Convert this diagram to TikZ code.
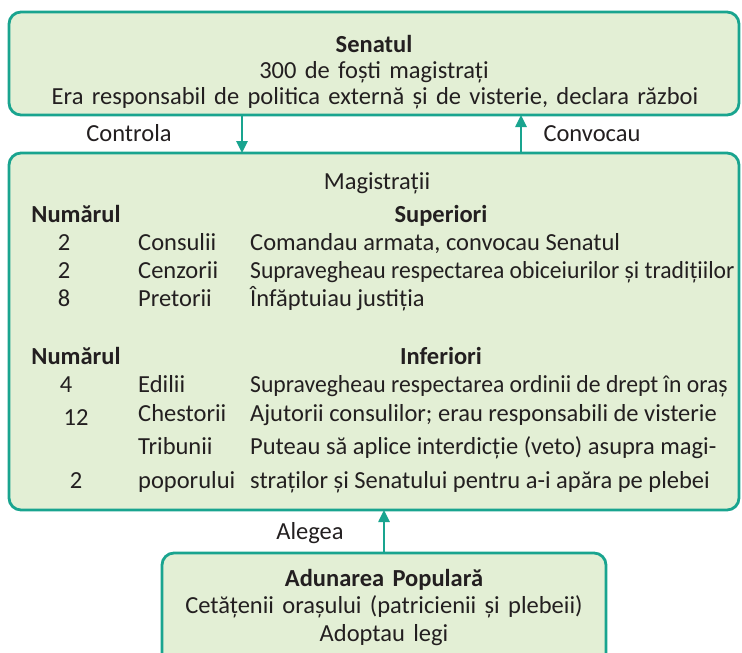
\documentclass[tikz,border=0pt]{standalone}
\usepackage{fontspec}
\usepackage{graphicx}
\setmainfont{Carlito}
\usetikzlibrary{arrows.meta}
\definecolor{bordc}{HTML}{19A48F}
\definecolor{fillc}{HTML}{E3EFD5}
\definecolor{txtc}{HTML}{231F20}
\newcommand\wsp{\spaceskip=0.34em\relax}
\newcommand\narrowtxt[1]{\scalebox{0.965}[1]{#1}}
\begin{document}
\begin{tikzpicture}[x=1pt,y=-1pt,
 box/.style={draw=bordc, fill=fillc, line width=2.8pt, rounded corners=12pt, inner sep=0pt, outer sep=0pt},
 t/.style={anchor=base, inner sep=0pt, text=txtc, font=\fontsize{24.5}{28}\selectfont},
 tl/.style={t, anchor=base west},
 b/.style={t, font=\fontsize{24.5}{28}\selectfont\bfseries},
 arr/.style={draw=bordc, line width=2.5pt, -{Triangle[length=12pt,width=11pt]}}]
\useasboundingbox (0,0) rectangle (742,653);
% boxes
\node[box, minimum width=730pt, minimum height=103pt] (sen) at (374,63.5) {};
\node[box, minimum width=730pt, minimum height=357pt] (mag) at (374,331.5) {};
\node[box, minimum width=444pt, minimum height=112pt] (pop) at (384,609) {};
% arrows
\draw[arr] ([xshift=-132pt]sen.south) -- ([xshift=-132pt]mag.north);
\draw[arr] ([xshift=147pt]mag.north) -- ([xshift=147pt]sen.south);
\draw[arr] (pop.north) -- ([xshift=10pt]mag.south);
\node[t] (lc) at (129,141) {Controla};
\node[t] (lv) at (592,141) {Convocau};
\node[t] (la) at (310,539) {Alegea};
% senat
\node[b] (s1) at (374,52) {Senatul};
\node[t] (s2) at (374,78) {\wsp 300 de foști magistrați};
\node[t] (s3) at (375,104) {\wsp Era responsabil de politica externă și de visterie, declara război};
% magistrati
\node[t] (m0) at (377,189) {Magistrații};
\node[b] (h1) at (76,222) {Numărul};
\node[b] (h2) at (441,222) {Superiori};
\node[t] (n1) at (64,250) {2};
\node[tl] (c1) at (138,250) {Consulii};
\node[tl] (d1) at (250,250) {Comandau armata, convocau Senatul};
\node[t] (n2) at (64,278) {2};
\node[tl] (c2) at (138,278) {Cenzorii};
\node[tl] (d2) at (250,278) {\narrowtxt{Supravegheau respectarea obiceiurilor și tradițiilor}};
\node[t] (n3) at (64,306) {8};
\node[tl] (c3) at (138,306) {Pretorii};
\node[tl] (d3) at (250,306) {Înfăptuiau justiția};
\node[b] (h3) at (76,364) {Numărul};
\node[b] (h4) at (441,364) {Inferiori};
\node[t] (n4) at (66,392) {4};
\node[tl] (c4) at (138,392) {Edilii};
\node[tl] (d4) at (250,392) {\narrowtxt{Supravegheau respectarea ordinii de drept în oraș}};
\node[t] (n5) at (76,425) {12};
\node[tl] (c5) at (138,421) {Chestorii};
\node[tl] (d5) at (250,421) {Ajutorii consulilor; erau responsabili de visterie};
\node[tl] (c6) at (138,454) {Tribunii};
\node[tl] (d6) at (250,454) {Puteau să aplice interdicție (veto) asupra magi-};
\node[t] (n6) at (76,488) {2};
\node[tl] (c7) at (138,488) {poporului};
\node[tl] (d7) at (250,488) {straților și Senatului pentru a-i apăra pe plebei};
% adunarea
\node[b] (p1) at (384,586) {\wsp Adunarea Populară};
\node[t] (p2) at (384,613) {\wsp Cetățenii orașului (patricienii și plebeii)};
\node[t] (p3) at (384,641) {\wsp Adoptau legi};
\end{tikzpicture}
\end{document}
